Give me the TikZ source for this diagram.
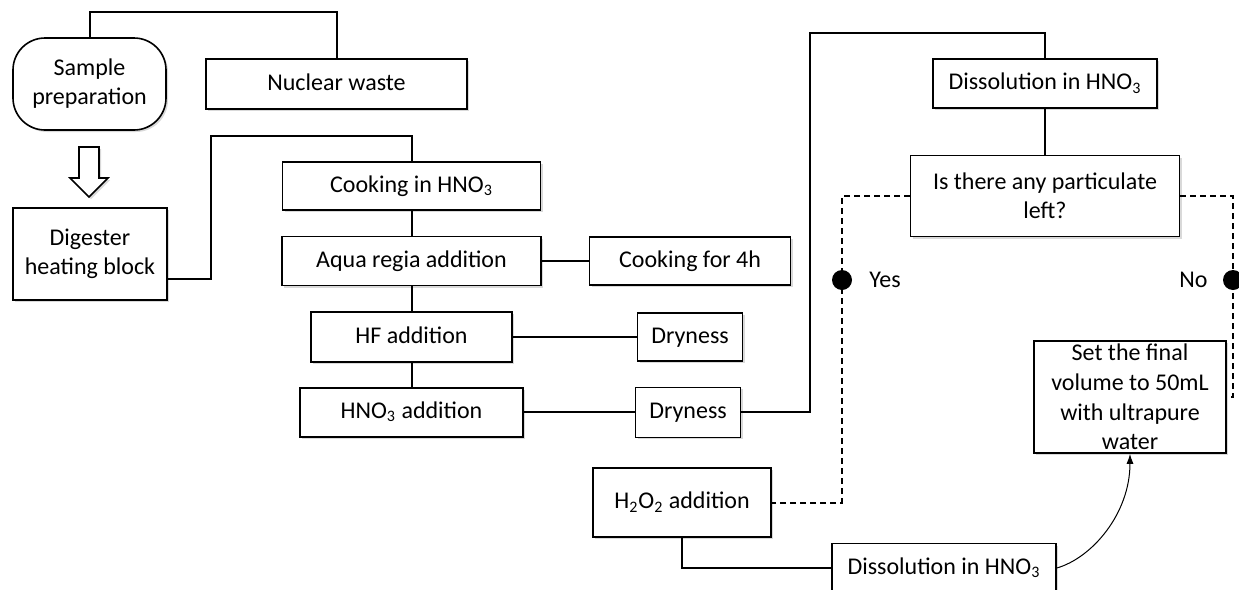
\documentclass[tikz,border=0pt]{standalone}
\usepackage{fontspec}
\setmainfont{Carlito}
\usetikzlibrary{arrows.meta,positioning,shadows}

\tikzset{
	box/.style={draw, fill=white, line width=0.8pt, align=center, inner sep=2pt,
		drop shadow={shadow xshift=1pt, shadow yshift=-1pt, opacity=0.3}},
	onerow/.style={text height=8.5pt, text depth=2.5pt},
	link/.style={line width=1pt},
	dashlink/.style={line width=1pt, dash pattern=on 3pt off 2pt},
	dot/.style={circle, fill=black, inner sep=0pt, minimum size=10pt}
}

\begin{document}
\begin{tikzpicture}[x=0.5pt, y=-0.5pt, font=\fontsize{12}{14.5}\selectfont]
					\clip (0,0) rectangle (1239,590);

					% left column
					\node[box, rounded corners=16pt, minimum width=76.5pt, minimum height=46pt] (sample) at (89.5,84) {Sample\\preparation};
					\node[box, onerow, minimum width=130.5pt, minimum height=25pt] (nuclear) at (336.5,84) {Nuclear waste};
					\node[box, minimum width=77pt, minimum height=46pt] (digester) at (90,254) {Digester\\heating block};
					\draw[line width=0.8pt, fill=white, drop shadow={shadow xshift=1pt, shadow yshift=-1pt, opacity=0.3}]
						(79,147) -- (99,147) -- (99,178) -- (108,178) -- (89,197) -- (70,178) -- (79,178) -- cycle;

					% digestion
					\node[box, onerow, minimum width=129pt, minimum height=24pt] (cook) at (411.5,186) {Cooking in HNO\textsubscript{3}};
					\node[box, onerow, minimum width=129.5pt, minimum height=24.5pt] (aqua) [below=12.5pt of cook] {Aqua regia addition};
					\node[box, onerow, minimum width=100.5pt, minimum height=25pt] (hf) [below=12.5pt of aqua] {HF addition};
					\node[box, onerow, minimum width=111.5pt, minimum height=24.5pt] (hno) [below=12pt of hf] {HNO\textsubscript{3} addition};
					\node[box, onerow, minimum width=100.5pt, minimum height=24pt] (cook4) [right=23.5pt of aqua] {Cooking for 4h};
					\node[box, onerow, minimum width=52.5pt, minimum height=24pt] (dry1) [right=62pt of hf] {Dryness};
					\node[box, onerow, minimum width=52.5pt, minimum height=25pt] (dry2) [right=55.5pt of hno] {Dryness};

					% dissolution
					\node[box, onerow, minimum width=112pt, minimum height=24.5pt] (diss1) at (1045,83.5) {Dissolution in HNO\textsubscript{3}};
					\node[box, minimum width=134.5pt, minimum height=40.5pt] (quest) [below=23pt of diss1] {Is there any particulate\\left?};
					\node[box, minimum width=96pt, minimum height=56pt, inner ysep=0pt, font=\fontsize{12}{14.8}\selectfont] (setvol) at (1130,397) {Set the final\\volume to 50mL\\with ultrapure\\water};
					\node[box, onerow, minimum width=89pt, minimum height=34.5pt] (h2o2) at (682,502.5) {H\textsubscript{2}O\textsubscript{2} addition};
					\node[box, onerow, minimum width=112pt, minimum height=24.5pt] (diss2) at (944,568) {Dissolution in HNO\textsubscript{3}};

					\coordinate (ybend) at (842,502.5);
					\coordinate (nbend) at (1233,397);

					\draw[link] (sample.north) -- ++(0,-25) -| (nuclear.north);
					\draw[link] ([yshift=-12.5pt]digester.east) -- ++(43,0) |- ([yshift=12.5pt]cook.north) -- (cook.north);
					\draw[link] (cook) -- (aqua) (aqua) -- (hf) (hf) -- (hno);
					\draw[link] (aqua) -- (cook4) (hf) -- (dry1) (hno) -- (dry2);
					\draw[link] (dry2.east) -- ++(69,0) |- ([yshift=12.5pt]diss1.north) -- (diss1.north);
					\draw[link] (diss1) -- (quest);
					\draw[dashlink] (quest.west) -| (ybend) -- (h2o2.east);
					\draw[dashlink] (quest.east) -| (nbend) -- (setvol.east);
					\draw[link] (h2o2.south) |- (diss2.west);
					\draw[line width=0.5pt, -{Latex[length=5pt, width=3.5pt]}] (diss2.east) .. controls +(35,-10) and +(0,60) .. (setvol.south);

					\node[dot, label={[label distance=5pt]right:Yes}] (yes) at (842,280) {};
					\node[dot, label={[label distance=4pt]left:No}] (no) at (1233,280) {};
				\end{tikzpicture}
\end{document}
